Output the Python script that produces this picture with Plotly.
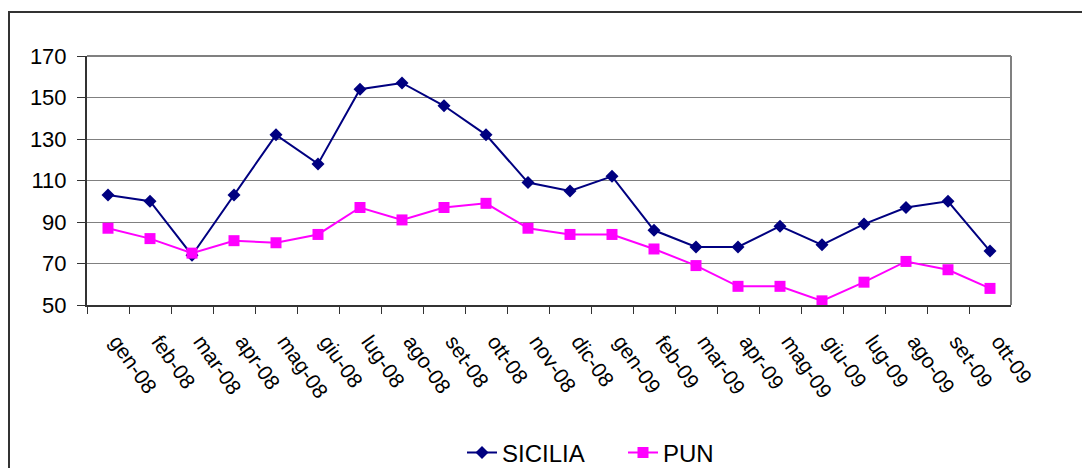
import plotly.graph_objects as go

W, H = 1082, 468

months = ["gen-08", "feb-08", "mar-08", "apr-08", "mag-08", "giu-08", "lug-08",
          "ago-08", "set-08", "ott-08", "nov-08", "dic-08", "gen-09", "feb-09",
          "mar-09", "apr-09", "mag-09", "giu-09", "lug-09", "ago-09", "set-09",
          "ott-09"]
sicilia = [103, 100, 74, 103, 132, 118, 154, 157, 146, 132, 109, 105, 112, 86,
           78, 78, 88, 79, 89, 97, 100, 76]
pun = [87, 82, 75, 81, 80, 84, 97, 91, 97, 99, 87, 84, 84, 77, 69, 59, 59, 52,
       61, 71, 67, 58]
y_ticks = [50, 70, 90, 110, 130, 150, 170]

FONT = "Liberation Sans, Arial, sans-serif"

# plot area in pixels (left, right, top, bottom)
PL, PR, PT, PB = 87, 1011, 56, 305


def px_x(v):
    return v / W


def px_y(v):
    return 1 - v / H


fig = go.Figure()
fig.add_trace(go.Scatter(
    x=months, y=sicilia, name="SICILIA", mode="lines+markers",
    line=dict(color="#000080", width=2),
    marker=dict(symbol="diamond", size=10, color="#000080"),
))
fig.add_trace(go.Scatter(
    x=months, y=pun, name="PUN", mode="lines+markers",
    line=dict(color="#FF00FF", width=2),
    marker=dict(symbol="square", size=11, color="#FF00FF"),
))

fig.update_layout(
    width=W, height=H,
    margin=dict(l=0, r=0, t=0, b=0, autoexpand=False),
    paper_bgcolor="white", plot_bgcolor="white",
    font=dict(family=FONT, color="black"),
    showlegend=True,
    legend=dict(
        orientation="h", x=px_x(462), xanchor="left", y=px_y(453), yanchor="middle",
        font=dict(size=24, family=FONT), itemwidth=30,
        entrywidth=116, entrywidthmode="pixels",
        bgcolor="rgba(0,0,0,0)",
    ),
    xaxis=dict(
        domain=[px_x(PL), px_x(PR)],
        type="category", range=[-0.5, len(months) - 0.5],
        showgrid=False, zeroline=False,
        showline=True, linecolor="#333333", linewidth=2,
        ticks="outside", tickson="boundaries", ticklen=7, tickcolor="#333333",
        tickangle=55, tickfont=dict(size=21, family=FONT),
        ticklabelstandoff=14, ticklabelshift=9,
    ),
    yaxis=dict(
        domain=[px_y(PB), px_y(PT)],
        range=[50, 170], tickvals=y_ticks,
        showgrid=True, gridcolor="#808080", gridwidth=1, zeroline=False,
        showline=True, linecolor="#333333", linewidth=2,
        ticks="outside", ticklen=8, tickcolor="#333333",
        tickfont=dict(size=22, family=FONT), ticklabelstandoff=6,
    ),
    shapes=[
        # outer chart frame
        dict(type="rect", xref="paper", yref="paper",
             x0=px_x(9), x1=px_x(1090), y0=px_y(490), y1=px_y(12),
             line=dict(color="#333333", width=2), layer="above"),
        # plot area frame (top and right sides)
        dict(type="line", xref="paper", yref="paper",
             x0=px_x(PL), x1=px_x(PR), y0=px_y(PT), y1=px_y(PT),
             line=dict(color="#808080", width=2), layer="below"),
        dict(type="line", xref="paper", yref="paper",
             x0=px_x(PR), x1=px_x(PR), y0=px_y(PT), y1=px_y(PB),
             line=dict(color="#808080", width=2), layer="below"),
    ],
)

fig.write_html("out.html")
